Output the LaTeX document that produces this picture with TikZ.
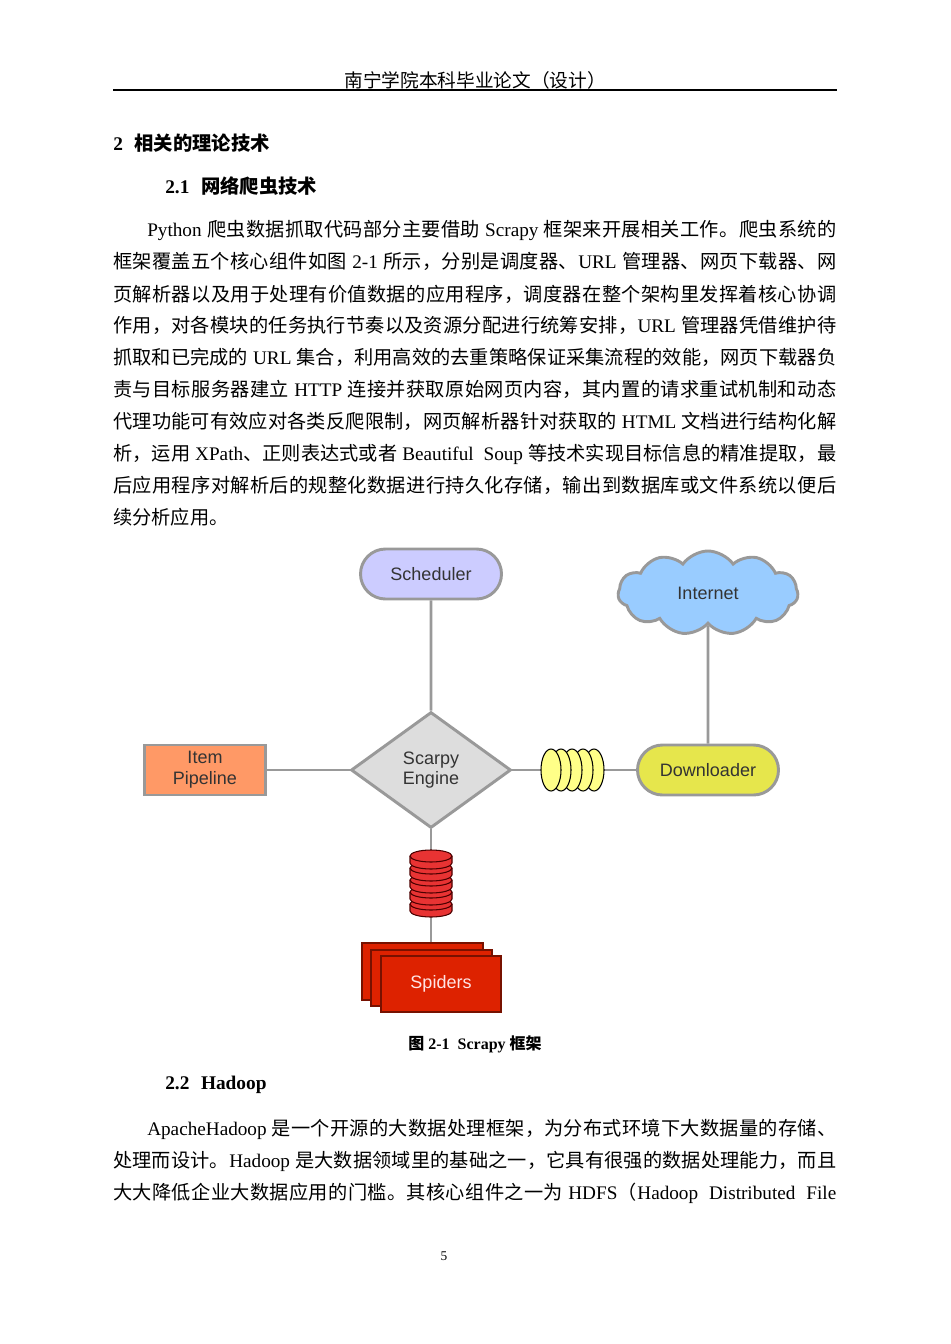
\documentclass[tikz,border=0pt]{standalone}
\usepackage{fontspec}
\usetikzlibrary{shapes.geometric,shapes.symbols,shapes.misc}
\setmainfont{Liberation Serif}
\newfontfamily\cjkf{Noto Sans CJK SC}
\newfontfamily\latf{Liberation Serif}
\newfontfamily\dsf{Liberation Sans}
\XeTeXinterchartokenstate=1
\newXeTeXintercharclass\CJKcls
\count255="4E00
\loop\XeTeXcharclass\count255=\CJKcls\advance\count255 by 1\ifnum\count255<"A000\repeat
\count255="3000
\loop\XeTeXcharclass\count255=\CJKcls\advance\count255 by 1\ifnum\count255<"3040\repeat
\count255="FF00
\loop\XeTeXcharclass\count255=\CJKcls\advance\count255 by 1\ifnum\count255<"FFF0\repeat
\XeTeXinterchartoks 0 \CJKcls {\cjkf\hskip0pt plus 1pt\relax}
\XeTeXinterchartoks 4095 \CJKcls {\cjkf}
\XeTeXinterchartoks \CJKcls 0 {\hskip0pt plus 1pt\latf}
\XeTeXinterchartoks \CJKcls 4095 {\latf}
\XeTeXinterchartoks \CJKcls \CJKcls {\hskip0pt plus 1pt\relax}
\definecolor{bord}{HTML}{999999}
\definecolor{sched}{HTML}{CCCCFF}
\definecolor{cloudc}{HTML}{99CCFF}
\definecolor{eng}{HTML}{DDDDDD}
\definecolor{pipe}{HTML}{FF9966}
\definecolor{down}{HTML}{E6E64C}
\definecolor{coil}{HTML}{FFFF88}
\definecolor{disc}{HTML}{E83333}
\definecolor{spid}{HTML}{DD2200}
\definecolor{spidb}{HTML}{771100}
\definecolor{dtext}{HTML}{333333}
\newcommand\pline[3]{\node[txt] (#1) at (113,#2) {\makebox[542.25pt][s]{#3}};}
\newcommand\pfirst[3]{\node[txt] (#1) at (147,#2) {\makebox[516.75pt][s]{#3}};}
\newcommand\plast[3]{\node[txt] (#1) at (113,#2) {#3};}
\begin{document}
\begin{tikzpicture}[x=0.75pt,y=-0.75pt,
  txt/.style={anchor=base west,inner sep=0pt,font=\fontsize{14.4}{18}\selectfont},
  box/.style={draw=bord,line width=2.2pt,font=\dsf\fontsize{13.5}{15.5}\selectfont,text=dtext,align=center,inner sep=0pt},
  conn/.style={draw=bord,line width=2.2pt},
  discs/.style={fill=disc,draw=black!70!red,line width=0.8pt},
  coils/.style={fill=coil,draw=black,line width=0.8pt}]
\useasboundingbox (0,0) rectangle (950,1344);
\fill[white] (0,0) rectangle (950,1344);
% header
\node[font=\fontsize{14}{16}\selectfont,inner sep=0pt] (hdr) at (475,80) {南宁学院本科毕业论文（设计）};
\coordinate (hl) at (113,90); \coordinate (hr) at (837,90);
\draw[line width=0.8pt] (hl) -- (hr);
\node[anchor=west,inner sep=0pt,font=\bfseries\fontsize{14.5}{18}\selectfont] (h2) at (113,143) {2\hspace{0.6em}相关的理论技术};
\node[anchor=west,inner sep=0pt,font=\bfseries\fontsize{14.5}{18}\selectfont] (h21) at (165,186) {2.1\hspace{0.6em}网络爬虫技术};
\pfirst{l1}{237}{Python 爬虫数据抓取代码部分主要借助 Scrapy 框架来开展相关工作。爬虫系统的}
\pline{l2}{269}{框架覆盖五个核心组件如图 2-1 所示，分别是调度器、URL 管理器、网页下载器、网}
\pline{l3}{301}{页解析器以及用于处理有价值数据的应用程序，调度器在整个架构里发挥着核心协调}
\pline{l4}{332}{作用，对各模块的任务执行节奏以及资源分配进行统筹安排，URL 管理器凭借维护待}
\pline{l5}{364}{抓取和已完成的 URL 集合，利用高效的去重策略保证采集流程的效能，网页下载器负}
\pline{l6}{396}{责与目标服务器建立 HTTP 连接并获取原始网页内容，其内置的请求重试机制和动态}
\pline{l7}{428}{代理功能可有效应对各类反爬限制，网页解析器针对获取的 HTML 文档进行结构化解}
\pline{l8}{460}{析，运用 XPath、正则表达式或者 Beautiful\ \ Soup 等技术实现目标信息的精准提取，最}
\pline{l9}{492}{后应用程序对解析后的规整化数据进行持久化存储，输出到数据库或文件系统以便后}
\plast{l10}{524}{续分析应用。}
% diagram
\node[box,rounded rectangle,fill=sched,minimum width=141*0.75pt,minimum height=50*0.75pt] (sch) at (431,574) {Scheduler};
\node[box,cloud,cloud puffs=11,cloud puff arc=110,aspect=2.1,fill=cloudc,minimum width=180*0.75pt,minimum height=84*0.75pt] (net) at (708,593) {Internet};
\node[box,diamond,fill=eng,minimum width=160*0.75pt,minimum height=116*0.75pt,aspect=1.38] (eng) at (431,770) {Scarpy\\Engine};
\node[box,rectangle,fill=pipe,minimum width=121*0.75pt,minimum height=50*0.75pt] (pip) at (205,770) {Item\\Pipeline};
\node[box,rounded rectangle,fill=down,minimum width=141*0.75pt,minimum height=50*0.75pt] (dl) at (708,770) {Downloader};
\coordinate (sp) at (431,950);
\draw[conn] (sch) -- (eng);
\draw[conn] (net) -- (dl);
\draw[conn] (pip) -- (eng);
\draw[conn] (eng) -- (dl);
\draw[conn] (eng) -- (sp);
% coils
\foreach \cx in {594,583,572,561,551}{
  \draw[coils] (\cx,770) ellipse [x radius=10*0.75pt, y radius=21*0.75pt];
}
% red discs
\foreach \cy in {904,892,880,868,856}{
  \draw[discs] (410,\cy) -- (410,\cy+7) arc[start angle=180,end angle=360,x radius=21*0.75pt,y radius=6*0.75pt] -- (452,\cy) arc[start angle=0,end angle=180,x radius=21*0.75pt,y radius=6*0.75pt] -- cycle;
  \draw[discs] (410,\cy) arc[start angle=180,end angle=360,x radius=21*0.75pt,y radius=6*0.75pt];
}
% spiders
\draw[fill=spid,draw=spidb,line width=1.2pt] (362,943) rectangle (483,1000);
\draw[fill=spid,draw=spidb,line width=1.2pt] (371,950) rectangle (492,1006);
\node[fill=spid,draw=spidb,line width=1.2pt,minimum width=120*0.75pt,minimum height=56*0.75pt,inner sep=0pt,text=red!10,font=\dsf\fontsize{13.5}{15}\selectfont] (spi) at (441,984) {Spiders};
% caption
\node[inner sep=0pt,font=\bfseries\fontsize{12}{14}\selectfont] (cap) at (475,1044) {图 2-1\hspace{0.5em}Scrapy 框架};
\node[anchor=west,inner sep=0pt,font=\bfseries\fontsize{14.5}{18}\selectfont] (h22) at (165,1085) {2.2\hspace{0.6em}Hadoop};
\pfirst{m1}{1135}{ApacheHadoop 是一个开源的大数据处理框架，为分布式环境下大数据量的存储、}
\pline{m2}{1167}{处理而设计。Hadoop 是大数据领域里的基础之一，它具有很强的数据处理能力，而且}
\pline{m3}{1199}{大大降低企业大数据应用的门槛。其核心组件之一为 HDFS（Hadoop\ \ Distributed\ \ File}
\node[inner sep=0pt,font=\fontsize{10}{12}\selectfont] (pg) at (444,1256) {5};
\end{tikzpicture}
\end{document}
